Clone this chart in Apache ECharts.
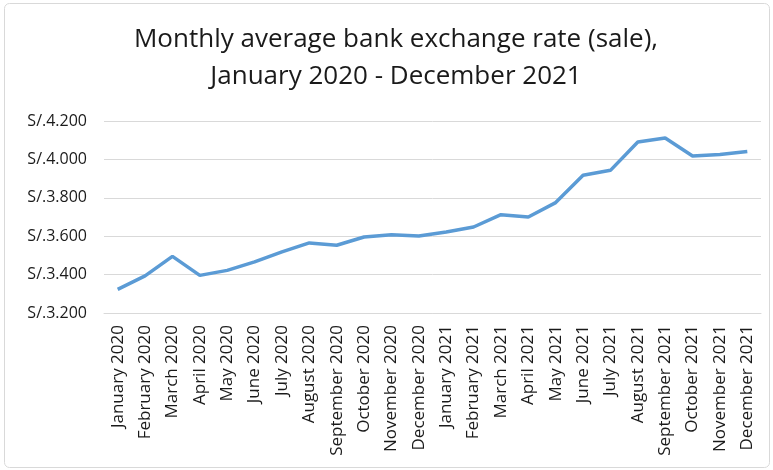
<!DOCTYPE html>
<html><head><meta charset="utf-8">
<script src="https://cdn.jsdelivr.net/npm/echarts@6/dist/echarts.min.js"></script>
<style>html,body{margin:0;padding:0;background:#fff}#c{width:773px;height:470px}</style>
</head><body><div id="c"></div>
<script>
const categories = ["January 2020","February 2020","March 2020","April 2020","May 2020","June 2020","July 2020","August 2020","September 2020","October 2020","November 2020","December 2020","January 2021","February 2021","March 2021","April 2021","May 2021","June 2021","July 2021","August 2021","September 2021","October 2021","November 2021","December 2021"];
const rates = [3.323,3.393,3.495,3.396,3.422,3.466,3.518,3.565,3.553,3.596,3.608,3.601,3.622,3.648,3.712,3.700,3.775,3.917,3.943,4.091,4.111,4.018,4.025,4.041];
const titleLines = ["Monthly average bank exchange rate (sale),","January 2020 - December 2021"];
const yMin = 3.2, yMax = 4.2, yStep = 0.2;

const titleStyle = {fontFamily:'Open Sans',fontWeight:'normal',fontSize:26,color:'#1a1a1a'};
const chart = echarts.init(document.getElementById('c'));
chart.setOption({
  animation:false,
  graphic:[{type:'rect',shape:{x:4.5,y:3.5,width:765,height:464,r:5},style:{fill:'none',stroke:'#d9d9d9',lineWidth:1}}],
  title:[
    {text:titleLines[0],left:396,top:27,textAlign:'center',padding:0,textStyle:titleStyle},
    {text:titleLines[1],left:396,top:64,textAlign:'center',padding:0,textStyle:titleStyle}
  ],
  grid:{left:104,right:12,top:121,bottom:157,containLabel:false},
  xAxis:{type:'category',data:categories,boundaryGap:true,
    axisLine:{lineStyle:{color:'#d9d9d9',width:1}},axisTick:{show:false},
    axisLabel:{rotate:90,interval:0,fontFamily:'Open Sans',fontSize:17,color:'#1a1a1a',margin:12}},
  yAxis:{type:'value',min:yMin,max:yMax,interval:yStep,
    axisLine:{show:false},axisTick:{show:false},
    splitLine:{lineStyle:{color:'#d9d9d9',width:1}},
    axisLabel:{formatter:v=>'S/.'+v.toFixed(3),fontFamily:'Open Sans',fontSize:16,color:'#1a1a1a',margin:17}},
  series:[{type:'line',data:rates,symbol:'none',lineStyle:{color:'#5b9bd5',width:3.5},itemStyle:{color:'#5b9bd5'}}]
});
</script></body></html>
